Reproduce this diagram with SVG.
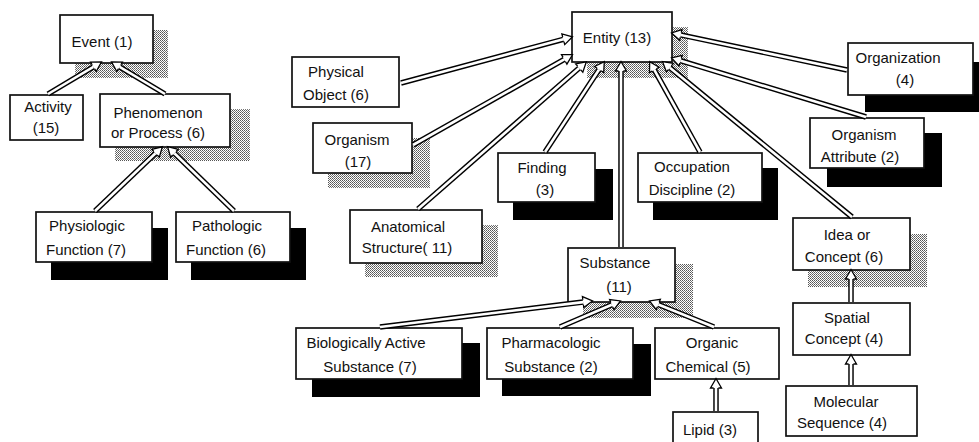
<svg xmlns="http://www.w3.org/2000/svg" width="979" height="442" viewBox="0 0 979 442">
<defs>
<pattern id="stip" width="2" height="2" patternUnits="userSpaceOnUse">
<rect width="2" height="2" fill="#ffffff"/>
<rect x="0" y="0" width="1" height="1" fill="#555555"/>
<rect x="1" y="1" width="1" height="1" fill="#777777"/>
</pattern>
<marker id="head" markerUnits="userSpaceOnUse" viewBox="-2 -7 14 14" markerWidth="14" markerHeight="14" refX="0" refY="0" orient="auto" overflow="visible">
<path d="M0,-2.4 L0,-5.5 L9.5,0 L0,5.5 L0,2.4" fill="#ffffff" stroke="#000000" stroke-width="1.3" stroke-linejoin="miter"/>
</marker>
</defs>
<style>
.box{fill:#ffffff;stroke:#111111;stroke-width:1.7}
.sg{fill:url(#stip)}
.sb{fill:#000000}
.t{font-family:"Liberation Sans",Arial,sans-serif;font-size:15px;fill:#111111;text-anchor:middle}
.o{stroke:#000000;stroke-width:5.5;fill:none}
.i{stroke:#ffffff;stroke-width:2.6;fill:none;marker-end:url(#head)}
</style>
<rect width="979" height="442" fill="#ffffff"/>

<g id="event"><rect class="sg" x="75" y="30" width="93" height="48"/><rect class="box" x="60" y="15" width="93" height="48"/><text class="t" x="102" y="47">Event (1)</text></g>
<g id="activity"><rect class="box" x="10" y="95" width="73" height="45"/><text class="t" x="48" y="112">Activity</text><text class="t" x="46" y="133">(15)</text></g>
<g id="phenomenon"><rect class="sg" x="115" y="109" width="135" height="52"/><rect class="box" x="100" y="94" width="130" height="53"/><text class="t" x="158" y="118">Phenomenon</text><text class="t" x="158" y="138">or Process (6)</text></g>
<g id="physiologic"><rect class="sb" x="51" y="228" width="117" height="52"/><rect class="box" x="36" y="212" width="116" height="50"/><text class="t" x="87" y="231">Physiologic</text><text class="t" x="86" y="255">Function (7)</text></g>
<g id="pathologic"><rect class="sb" x="191" y="228" width="115" height="52"/><rect class="box" x="176" y="212" width="114" height="50"/><text class="t" x="227" y="231">Pathologic</text><text class="t" x="226" y="255">Function (6)</text></g>
<g id="entity"><rect class="sg" x="587" y="27" width="101" height="51"/><rect class="box" x="572" y="12" width="100" height="50"/><text class="t" x="617" y="43">Entity (13)</text></g>
<g id="physical-object"><rect class="box" x="292" y="57" width="107" height="50"/><text class="t" x="336" y="77">Physical</text><text class="t" x="336" y="100">Object (6)</text></g>
<g id="organism"><rect class="sg" x="328" y="138" width="102" height="50"/><rect class="box" x="313" y="123" width="99" height="50"/><text class="t" x="357" y="145">Organism</text><text class="t" x="358" y="167">(17)</text></g>
<g id="finding"><rect class="sb" x="513" y="169" width="100" height="51"/><rect class="box" x="498" y="153" width="97" height="49"/><text class="t" x="542" y="173">Finding</text><text class="t" x="545" y="195">(3)</text></g>
<g id="anatomical"><rect class="sg" x="365" y="225" width="133" height="52"/><rect class="box" x="350" y="210" width="132" height="53"/><text class="t" x="408" y="232">Anatomical</text><text class="t" x="407" y="253">Structure( 11)</text></g>
<g id="occupation"><rect class="sb" x="653" y="168" width="125" height="52"/><rect class="box" x="638" y="153" width="124" height="49"/><text class="t" x="692" y="172">Occupation</text><text class="t" x="692" y="195">Discipline (2)</text></g>
<g id="organization"><rect class="sb" x="865" y="62" width="120" height="50"/><rect class="box" x="848" y="43" width="125" height="52"/><text class="t" x="898" y="63">Organization</text><text class="t" x="905" y="85">(4)</text></g>
<g id="organism-attribute"><rect class="sb" x="827" y="133" width="115" height="54"/><rect class="box" x="810" y="118" width="114" height="50"/><text class="t" x="864" y="140">Organism</text><text class="t" x="860" y="162">Attribute (2)</text></g>
<g id="idea"><rect class="sg" x="808" y="234" width="119" height="53"/><rect class="box" x="793" y="218" width="117" height="52"/><text class="t" x="847" y="240">Idea or</text><text class="t" x="844" y="262">Concept (6)</text></g>
<g id="spatial"><rect class="box" x="793" y="303" width="117" height="52"/><text class="t" x="847" y="323">Spatial</text><text class="t" x="844" y="344">Concept (4)</text></g>
<g id="molecular"><rect class="box" x="786" y="386" width="131" height="50"/><text class="t" x="846" y="407">Molecular</text><text class="t" x="842" y="428">Sequence (4)</text></g>
<g id="substance"><rect class="sg" x="583" y="264" width="110" height="54"/><rect class="box" x="568" y="248" width="107" height="54"/><text class="t" x="615" y="268">Substance</text><text class="t" x="619" y="292">(11)</text></g>
<g id="bioactive"><rect class="sb" x="312" y="343" width="168" height="54"/><rect class="box" x="296" y="328" width="166" height="51"/><text class="t" x="366" y="348">Biologically Active</text><text class="t" x="370" y="372">Substance (7)</text></g>
<g id="pharmacologic"><rect class="sb" x="502" y="344" width="149" height="52"/><rect class="box" x="487" y="328" width="146" height="51"/><text class="t" x="551" y="348">Pharmacologic</text><text class="t" x="551" y="372">Substance (2)</text></g>
<g id="organic-chemical"><rect class="box" x="655" y="328" width="124" height="51"/><text class="t" x="712" y="348">Organic</text><text class="t" x="708" y="372">Chemical (5)</text></g>
<g id="lipid"><rect class="box" x="673" y="412" width="85" height="40"/><text class="t" x="710" y="435">Lipid (3)</text></g>

<g id="connectors">
<path class="o" d="M48,94 L93.4,66.8"/><path class="i" d="M48,94 L93.4,66.8"/>
<path class="o" d="M165,94 L119.6,66.8"/><path class="i" d="M165,94 L119.6,66.8"/>
<path class="o" d="M95,211 L155.5,153.3"/><path class="i" d="M95,211 L155.5,153.3"/>
<path class="o" d="M234,211 L174.4,153.3"/><path class="i" d="M234,211 L174.4,153.3"/>
<path class="o" d="M401,83 L563.3,39.3"/><path class="i" d="M401,83 L563.3,39.3"/>
<path class="o" d="M413,145 L564.2,59.4"/><path class="i" d="M413,145 L564.2,59.4"/>
<path class="o" d="M418,209 L579.2,68"/><path class="i" d="M418,209 L579.2,68"/>
<path class="o" d="M545,152 L599.1,69.5"/><path class="i" d="M545,152 L599.1,69.5"/>
<path class="o" d="M621,247 L621,71"/><path class="i" d="M621,247 L621,71"/>
<path class="o" d="M700,152 L654.3,69.9"/><path class="i" d="M700,152 L654.3,69.9"/>
<path class="o" d="M852,217 L669.9,67.7"/><path class="i" d="M852,217 L669.9,67.7"/>
<path class="o" d="M866,117 L680.6,60.7"/><path class="i" d="M866,117 L680.6,60.7"/>
<path class="o" d="M847,70 L680.8,34.9"/><path class="i" d="M847,70 L680.8,34.9"/>
<path class="o" d="M380,327 L583.1,302.1"/><path class="i" d="M380,327 L583.1,302.1"/>
<path class="o" d="M560,327 L611.8,304.7"/><path class="i" d="M560,327 L611.8,304.7"/>
<path class="o" d="M714,327 L658.3,304.5"/><path class="i" d="M714,327 L658.3,304.5"/>
<path class="o" d="M716,411 L716,388"/><path class="i" d="M716,411 L716,388"/>
<path class="o" d="M851,302 L851,279"/><path class="i" d="M851,302 L851,279"/>
<path class="o" d="M851,385 L851,364"/><path class="i" d="M851,385 L851,364"/>
</g>
</svg>
